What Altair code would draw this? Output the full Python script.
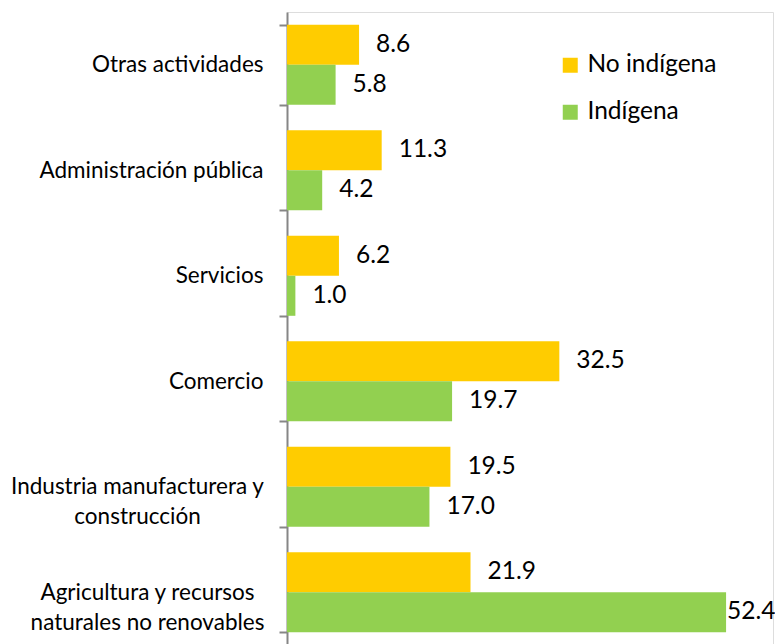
import altair as alt
import pandas as pd

categories = [
    "Otras actividades",
    "Administración pública",
    "Servicios",
    "Comercio",
    "Industria manufacturera y construcción",
    "Agricultura y recursos naturales no renovables",
]
no_indigena = [8.6, 11.3, 6.2, 32.5, 19.5, 21.9]
indigena = [5.8, 4.2, 1.0, 19.7, 17.0, 52.4]
series = ["No indígena", "Indígena"]
colors = ["#FFCC00", "#92D050"]

rows = []
for c, a, b in zip(categories, no_indigena, indigena):
    rows.append({"cat": c, "serie": series[0], "val": a})
    rows.append({"cat": c, "serie": series[1], "val": b})
df = pd.DataFrame(rows)

IND = "Industria manufacturera y construcción"
AGR = "Agricultura y recursos naturales no renovables"

label_expr = (
    f"datum.value == '{IND}' ? ['Industria manufacturera y', 'construcción'] : "
    f"datum.value == '{AGR}' ? ['Agricultura y recursos', 'naturales no renovables'] : "
    "datum.value"
)

FONT = "Lato"

y_enc = alt.Y(
    "cat:N",
    sort=categories,
    scale=alt.Scale(paddingInner=0.24, paddingOuter=0.12),
    axis=alt.Axis(
        title=None,
        labelExpr=label_expr,
        labelFont=FONT,
        labelFontSize=22.5,
        labelColor="#000000",
        labelLineHeight=30,
        labelLimit=400,
        labelAlign={
            "condition": {"test": f"datum.value == '{IND}' || datum.value == '{AGR}'", "value": "center"},
            "value": "right",
        },
        labelPadding={
            "condition": [
                {"test": f"datum.value == '{IND}'", "value": 142},
                {"test": f"datum.value == '{AGR}'", "value": 132},
            ],
            "value": 16,
        },
        tickBand="extent",
        tickSize=8,
        tickWidth=2,
        tickColor="#868686",
        domainColor="#868686",
        domainWidth=2,
        grid=False,
    ),
)

x_enc = alt.X(
    "val:Q",
    scale=alt.Scale(domain=[0, 58], nice=False),
    axis=None,
)

base = alt.Chart(df).encode(
    y=y_enc,
    yOffset=alt.YOffset("serie:N", sort=series),
)

bars = base.mark_bar(size=40).encode(
    x=x_enc,
    color=alt.Color(
        "serie:N",
        sort=series,
        scale=alt.Scale(domain=series, range=colors),
        legend=alt.Legend(
            title=None,
            orient="none",
            legendX=271,
            legendY=41,
            symbolType="square",
            symbolSize=225,
            symbolStrokeWidth=0,
            labelFont=FONT,
            labelFontSize=24.5,
            labelColor="#000000",
            rowPadding=22,
            labelOffset=5,
        ),
    ),
)

texts = base.mark_text(
    align="left", baseline="middle", dx=17, font=FONT, fontSize=24.5, color="#000000"
).encode(
    x=x_enc,
    text=alt.Text("val:Q", format=".1f"),
).transform_filter("datum.val < 50")

texts_big = base.mark_text(
    align="left", baseline="middle", dx=1, font=FONT, fontSize=24.5, color="#000000"
).encode(
    x=x_enc,
    text=alt.Text("val:Q", format=".1f"),
).transform_filter("datum.val >= 50")

chart = (
    alt.layer(bars, texts, texts_big)
    .properties(
        width=486,
        height=633,
        padding={"left": 279, "top": 4, "right": 2, "bottom": 0},
        autosize=alt.AutoSizeParams(type="none"),
    )
    .configure_view(strokeWidth=0, stroke="transparent")
    .configure(background="#ffffff")
)

chart.save("out.html", embed_options={"renderer": "svg", "actions": False})
